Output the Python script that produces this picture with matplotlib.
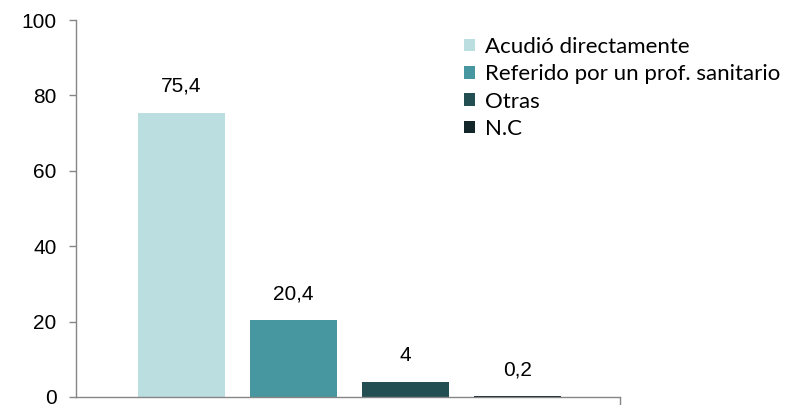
import matplotlib.pyplot as plt

# data
labels = ["Acudió directamente", "Referido por un prof. sanitario", "Otras", "N.C"]
values = [75.4, 20.4, 4, 0.2]
value_text = ["75,4", "20,4", "4", "0,2"]
colors = ["#BBDEE0", "#46979F", "#234E52", "#13262A"]
yticks = [0, 20, 40, 60, 80, 100]

plt.rcParams['font.family'] = ['Liberation Sans', 'DejaVu Sans']

fig = plt.figure(figsize=(7.85, 4.05), dpi=100)
ax = fig.add_axes([76 / 785, 8 / 405, 544 / 785, 377 / 405])

# one category, four series side by side
bar_w = 0.16
start = 0.194
step = 0.206
for i, (lab, v, c) in enumerate(zip(labels, values, colors)):
    ax.bar(start + i * step, v, width=bar_w, color=c, label=lab)
    ax.annotate(value_text[i], (start + i * step, v), xytext=(0, 17),
                textcoords="offset pixels", ha="center", va="bottom", fontsize=15)

ax.set_xlim(0, 1)
ax.set_ylim(0, 100)
ax.set_yticks(yticks)
ax.set_xticks([1])
ax.set_xticklabels([""])
ax.tick_params(axis="y", labelsize=15, length=5, color="#868686", width=1, pad=9)
ax.tick_params(axis="x", length=6, color="#868686", width=1, direction="out")
for s in ["top", "right"]:
    ax.spines[s].set_visible(False)
for s in ["left", "bottom"]:
    ax.spines[s].set_color("#868686")
    ax.spines[s].set_linewidth(1)

ax.legend(loc="upper left", bbox_to_anchor=(464 / 785, 1 - 37 / 405),
          bbox_transform=fig.transFigure, frameon=False,
          prop={"family": "Lato", "size": 16}, handlelength=0.5, handleheight=0.5,
          handletextpad=0.45, labelspacing=0.33, borderpad=0, borderaxespad=0)

fig.savefig("out.png", dpi=100)
